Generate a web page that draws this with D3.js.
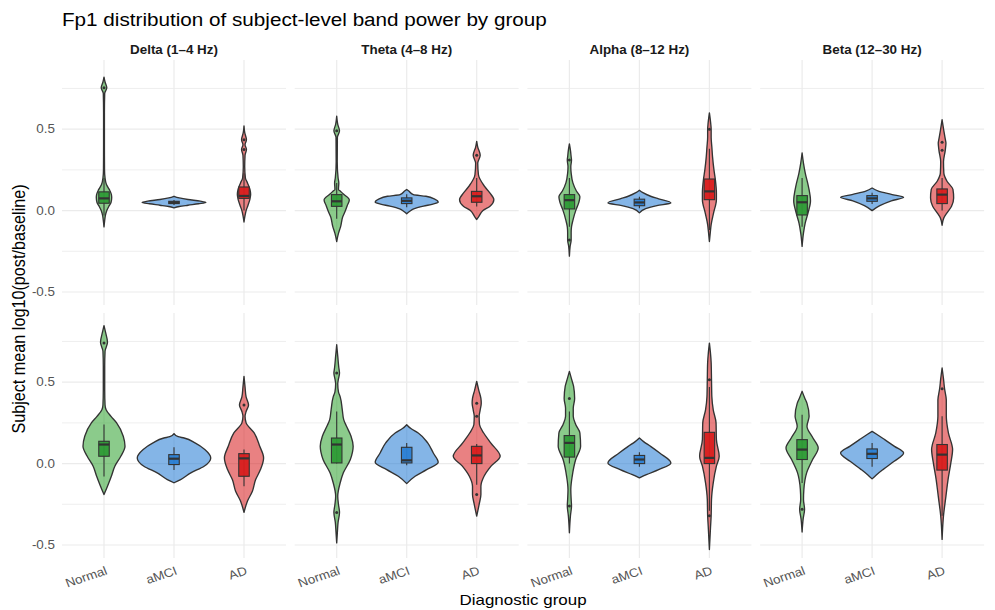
<!DOCTYPE html>
<html>
<head>
<meta charset="utf-8">
<script src="https://cdn.jsdelivr.net/npm/d3@7"></script>
<style>
  body { margin: 0; background: #fff; }
  text { font-family: "Liberation Sans", Arial, Helvetica, sans-serif; }
</style>
</head>
<body>
<svg id="chart" width="995" height="610"></svg>
<script>
// ---- data -------------------------------------------------------------
const bands = ["Delta (1–4 Hz)", "Theta (4–8 Hz)", "Alpha (8–12 Hz)", "Beta (12–30 Hz)"];
const groups = ["Normal", "aMCI", "AD"];
const yMajorTicks = [-0.5, 0, 0.5];
const yMinorTicks = [-0.25, 0.25, 0.75];
const yTickLabels = ["-0.5", "0.0", "0.5"];

// violin density profiles, per band then group: [value, relative half-width]
const violinsTop = [
  [ // Delta
    [[0.82,0],[0.79,0.03],[0.755,0.08],[0.72,0.02],[0.6,0.012],[0.4,0.012],[0.25,0.015],[0.2,0.03],[0.16,0.07],[0.13,0.15],[0.1,0.21],[0.08,0.22],[0.05,0.2],[0.027,0.14],[0.0,0.08],[-0.03,0.04],[-0.06,0.02],[-0.1,0]],
    [[0.088,0],[0.078,0.15],[0.068,0.4],[0.058,0.75],[0.05,0.91],[0.042,0.7],[0.033,0.4],[0.025,0.15],[0.017,0]],
    [[0.52,0],[0.48,0.02],[0.435,0.07],[0.405,0.03],[0.375,0.07],[0.34,0.03],[0.27,0.02],[0.2,0.04],[0.17,0.1],[0.13,0.17],[0.1,0.19],[0.07,0.17],[0.03,0.11],[0.0,0.06],[-0.03,0.03],[-0.07,0]]
  ],
  [ // Theta
    [[0.58,0],[0.53,0.03],[0.49,0.08],[0.45,0.02],[0.3,0.015],[0.2,0.04],[0.17,0.06],[0.13,0.05],[0.12,0.1],[0.1,0.2],[0.065,0.36],[0.03,0.3],[0.0,0.25],[-0.04,0.17],[-0.1,0.11],[-0.14,0.05],[-0.19,0]],
    [[0.13,0],[0.12,0.06],[0.098,0.19],[0.088,0.55],[0.07,0.8],[0.051,0.9],[0.04,0.75],[0.027,0.48],[0.01,0.2],[-0.004,0.09],[-0.02,0]],
    [[0.425,0],[0.39,0.03],[0.34,0.1],[0.29,0.03],[0.22,0.05],[0.15,0.22],[0.11,0.37],[0.067,0.49],[0.027,0.38],[0.0,0.18],[-0.04,0.05],[-0.055,0]]
  ],
  [ // Alpha
    [[0.41,0],[0.37,0.03],[0.33,0.05],[0.31,0.06],[0.27,0.04],[0.23,0.05],[0.17,0.1],[0.12,0.2],[0.085,0.3],[0.05,0.27],[0.006,0.19],[-0.06,0.1],[-0.1,0.06],[-0.135,0.05],[-0.18,0.05],[-0.22,0.02],[-0.28,0]],
    [[0.125,0],[0.11,0.1],[0.088,0.32],[0.072,0.55],[0.047,0.9],[0.031,0.5],[0.012,0.18],[-0.014,0]],
    [[0.6,0],[0.53,0.04],[0.5,0.05],[0.45,0.05],[0.39,0.07],[0.33,0.09],[0.25,0.13],[0.19,0.17],[0.108,0.2],[0.067,0.2],[-0.014,0.12],[-0.086,0.05],[-0.135,0.025],[-0.19,0]]
  ],
  [ // Beta
    [[0.354,0],[0.29,0.04],[0.23,0.09],[0.149,0.18],[0.06,0.24],[-0.014,0.17],[-0.076,0.09],[-0.137,0.04],[-0.22,0]],
    [[0.139,0],[0.12,0.18],[0.1,0.55],[0.082,0.9],[0.06,0.55],[0.03,0.22],[0.0,0]],
    [[0.558,0],[0.49,0.05],[0.44,0.09],[0.415,0.11],[0.37,0.09],[0.3,0.04],[0.23,0.05],[0.18,0.14],[0.13,0.31],[0.078,0.33],[0.027,0.27],[-0.014,0.14],[-0.045,0.05],[-0.09,0]]
  ]
];

const violinsBottom = [
  [ // Delta
    [[0.847,0],[0.81,0.04],[0.745,0.1],[0.69,0.03],[0.6,0.02],[0.45,0.02],[0.36,0.03],[0.331,0.06],[0.29,0.2],[0.25,0.36],[0.168,0.55],[0.106,0.6],[0.045,0.48],[-0.016,0.31],[-0.078,0.21],[-0.139,0.1],[-0.19,0]],
    [[0.184,0],[0.165,0.12],[0.157,0.29],[0.127,0.6],[0.086,0.88],[0.035,1.05],[-0.016,0.86],[-0.057,0.48],[-0.098,0.19],[-0.118,0]],
    [[0.536,0],[0.47,0.03],[0.41,0.06],[0.36,0.13],[0.32,0.06],[0.29,0.03],[0.25,0.06],[0.188,0.29],[0.106,0.45],[0.035,0.56],[-0.037,0.47],[-0.1,0.33],[-0.17,0.24],[-0.23,0.1],[-0.3,0]]
  ],
  [ // Theta
    [[0.73,0],[0.66,0.03],[0.59,0.06],[0.556,0.08],[0.52,0.05],[0.49,0.03],[0.44,0.05],[0.41,0.1],[0.33,0.16],[0.27,0.2],[0.229,0.28],[0.168,0.41],[0.106,0.47],[0.025,0.39],[-0.057,0.19],[-0.118,0.1],[-0.2,0.03],[-0.25,0.05],[-0.3,0.08],[-0.36,0.04],[-0.42,0.02],[-0.487,0]],
    [[0.239,0],[0.215,0.12],[0.188,0.33],[0.127,0.6],[0.065,0.76],[0.008,0.9],[-0.037,0.57],[-0.078,0.24],[-0.123,0]],
    [[0.505,0],[0.45,0.06],[0.4,0.12],[0.37,0.13],[0.33,0.1],[0.29,0.07],[0.24,0.08],[0.188,0.2],[0.127,0.4],[0.045,0.67],[-0.016,0.41],[-0.078,0.21],[-0.14,0.12],[-0.19,0.12],[-0.25,0.07],[-0.323,0]]
  ],
  [ // Alpha
    [[0.566,0],[0.52,0.06],[0.474,0.12],[0.4,0.15],[0.34,0.11],[0.29,0.11],[0.24,0.18],[0.188,0.3],[0.106,0.32],[0.025,0.18],[-0.078,0.08],[-0.16,0.04],[-0.22,0.05],[-0.26,0.06],[-0.32,0.03],[-0.425,0]],
    [[0.157,0],[0.135,0.12],[0.106,0.32],[0.065,0.58],[0.004,0.9],[-0.037,0.55],[-0.068,0.2],[-0.088,0]],
    [[0.74,0],[0.68,0.03],[0.62,0.05],[0.515,0.06],[0.41,0.07],[0.33,0.11],[0.25,0.19],[0.147,0.2],[0.045,0.28],[-0.016,0.2],[-0.118,0.11],[-0.22,0.06],[-0.32,0.05],[-0.4,0.03],[-0.528,0]]
  ],
  [ // Beta
    [[0.444,0],[0.4,0.08],[0.37,0.14],[0.29,0.2],[0.23,0.14],[0.157,0.31],[0.096,0.46],[0.025,0.3],[-0.057,0.13],[-0.16,0.05],[-0.22,0.04],[-0.28,0.07],[-0.34,0.03],[-0.42,0]],
    [[0.198,0],[0.18,0.13],[0.147,0.36],[0.106,0.64],[0.065,0.9],[0.014,0.63],[-0.037,0.31],[-0.07,0.12],[-0.094,0]],
    [[0.587,0],[0.52,0.04],[0.46,0.07],[0.39,0.12],[0.29,0.12],[0.188,0.18],[0.086,0.3],[0.004,0.25],[-0.098,0.17],[-0.2,0.11],[-0.32,0.04],[-0.466,0]]
  ]
];

// box summaries, per band then group: [lower whisker, Q1, median, Q3, upper whisker]
const boxesTop = [
  [[-0.03,0.045,0.075,0.115,0.2], [0.035,0.043,0.05,0.057,0.065], [0.0,0.075,0.09,0.145,0.23]],
  [[-0.05,0.026,0.057,0.098,0.17], [0.02,0.043,0.06,0.078,0.1], [0.025,0.051,0.088,0.118,0.2]],
  [[-0.1,0.01,0.064,0.098,0.2], [0.015,0.03,0.05,0.07,0.085], [-0.12,0.067,0.118,0.194,0.38]],
  [[-0.1,-0.027,0.051,0.092,0.2], [0.04,0.057,0.075,0.092,0.11], [0.0,0.043,0.098,0.133,0.2]]
];
const boxesBottom = [
  [[-0.08,0.045,0.117,0.137,0.24], [-0.04,-0.006,0.03,0.055,0.1], [-0.14,-0.078,0.032,0.061,0.086]],
  [[0.0,0.004,0.117,0.157,0.32], [-0.01,0.004,0.02,0.1,0.127], [-0.13,0.0,0.05,0.106,0.12]],
  [[0.0,0.04,0.127,0.172,0.32], [-0.02,0.0,0.025,0.05,0.07], [-0.29,0.0,0.035,0.192,0.47]],
  [[-0.12,0.025,0.086,0.147,0.3], [-0.02,0.031,0.06,0.09,0.127], [-0.32,-0.04,0.055,0.117,0.29]]
];

// points beyond the whiskers
const outliersTop = [
  [[0.755], [], [0.435, 0.375]],
  [[0.49], [], [0.34]],
  [[0.31, -0.18], [], [0.5]],
  [[], [], [0.42, 0.37]]
];
const outliersBottom = [
  [[0.74], [], [0.36]],
  [[0.556, -0.3], [], [0.37, 0.29, -0.19]],
  [[0.4, -0.26], [], [0.515, -0.32]],
  [[-0.28], [], [0.46]]
];

// ---- look -------------------------------------------------------------
const violinFill = { "Normal": "#2ca02c", "aMCI": "#1f78d4", "AD": "#d7191c" };
const boxFill = { "Normal": "#2e9a36", "aMCI": "#2b80d3", "AD": "#d81d1d" };
const ink = "#333333";
const gridColor = "#ebebeb";
const stretch = 1.1;

const svg = d3.select("#chart");
svg.append("rect").attr("width", 995).attr("height", 610).attr("fill", "#fff");

const panelW = 224, panelH = 245;
const colLeft = bands.map((b, i) => 62 + i * 232.7);
const rowTop = [60, 313];

const x = d3.scalePoint().domain(groups).range([0, panelW]).padding(0.6);
const y = d3.scaleLinear().domain([-0.58, 0.925]).range([panelH, 0]);
const halfUnit = x.step() * 0.5;
const boxHalf = x.step() * 0.075;

function label(parent, px, py, str, opts) {
  const o = Object.assign({ size: 12, weight: "normal", anchor: "start", color: "#000", rotate: 0 }, opts);
  return parent.append("text")
    .attr("transform", `translate(${px},${py}) scale(${stretch},1) rotate(${o.rotate})`)
    .attr("text-anchor", o.anchor)
    .attr("font-size", o.size)
    .attr("font-weight", o.weight)
    .attr("fill", o.color)
    .text(str);
}

const violinArea = d3.area()
  .y(d => y(d[0]))
  .curve(d3.curveMonotoneY);

const rows = [
  { violins: violinsTop, boxes: boxesTop, outliers: outliersTop },
  { violins: violinsBottom, boxes: boxesBottom, outliers: outliersBottom }
];

rows.forEach((row, r) => {
  bands.forEach((band, c) => {
    const g = svg.append("g").attr("transform", `translate(${colLeft[c]},${rowTop[r]})`);

    // grid
    g.selectAll(".minor").data(yMinorTicks).join("line")
      .attr("x1", 0).attr("x2", panelW)
      .attr("y1", d => y(d)).attr("y2", d => y(d))
      .attr("stroke", gridColor).attr("stroke-width", 0.8);
    g.selectAll(".major").data(yMajorTicks).join("line")
      .attr("x1", 0).attr("x2", panelW)
      .attr("y1", d => y(d)).attr("y2", d => y(d))
      .attr("stroke", gridColor).attr("stroke-width", 1.2);
    g.selectAll(".vgrid").data(groups).join("line")
      .attr("x1", d => x(d)).attr("x2", d => x(d))
      .attr("y1", 0).attr("y2", panelH)
      .attr("stroke", gridColor).attr("stroke-width", 1.2);

    groups.forEach((grp, k) => {
      const cx = x(grp);
      const prof = row.violins[c][k];
      violinArea.x0(d => cx - d[1] * halfUnit).x1(d => cx + d[1] * halfUnit);
      g.append("path")
        .attr("d", violinArea(prof))
        .attr("fill", violinFill[grp]).attr("fill-opacity", 0.55)
        .attr("stroke", ink).attr("stroke-width", 1.35)
        .attr("stroke-linejoin", "round");

      const [lo, q1, med, q3, hi] = row.boxes[c][k];
      g.append("line")
        .attr("x1", cx).attr("x2", cx)
        .attr("y1", y(hi)).attr("y2", y(lo))
        .attr("stroke", ink).attr("stroke-width", 1.1);
      g.append("rect")
        .attr("x", cx - boxHalf).attr("width", boxHalf * 2)
        .attr("y", y(q3)).attr("height", y(q1) - y(q3))
        .attr("fill", boxFill[grp]).attr("fill-opacity", 0.95)
        .attr("stroke", ink).attr("stroke-width", 1.1);
      g.append("line")
        .attr("x1", cx - boxHalf).attr("x2", cx + boxHalf)
        .attr("y1", y(med)).attr("y2", y(med))
        .attr("stroke", ink).attr("stroke-width", 2.2);

      g.selectAll(null).data(row.outliers[c][k]).join("circle")
        .attr("cx", cx).attr("cy", d => y(d)).attr("r", 1.5)
        .attr("fill", ink);
    });

    // y tick labels on the first column
    if (c === 0) {
      yMajorTicks.forEach((t, i) => {
        label(svg, colLeft[0] - 7, rowTop[r] + y(t) + 4.3, yTickLabels[i],
          { size: 12.2, anchor: "end", color: "#555" });
      });
    }
    // strip labels above the first row
    if (r === 0) {
      label(svg, colLeft[c] + panelW / 2, 54, band,
        { size: 12.2, weight: "bold", anchor: "middle", color: "#1a1a1a" });
    }
    // rotated group labels below the last row
    if (r === 1) {
      groups.forEach(grp => {
        label(svg, colLeft[c] + x(grp) + 4, rowTop[1] + panelH + 16, grp,
          { size: 12.2, anchor: "end", color: "#555", rotate: -20 });
      });
    }
  });
});

// titles
label(svg, 62, 26, "Fp1 distribution of subject-level band power by group", { size: 18.8 });
label(svg, (colLeft[0] + colLeft[3] + panelW) / 2, 605, "Diagnostic group", { size: 15.4, anchor: "middle" });
label(svg, 25, (rowTop[0] + rowTop[1] + panelH) / 2, "Subject mean log10(post/baseline)",
  { size: 16.2, anchor: "middle", rotate: -90 });
</script>
</body>
</html>
